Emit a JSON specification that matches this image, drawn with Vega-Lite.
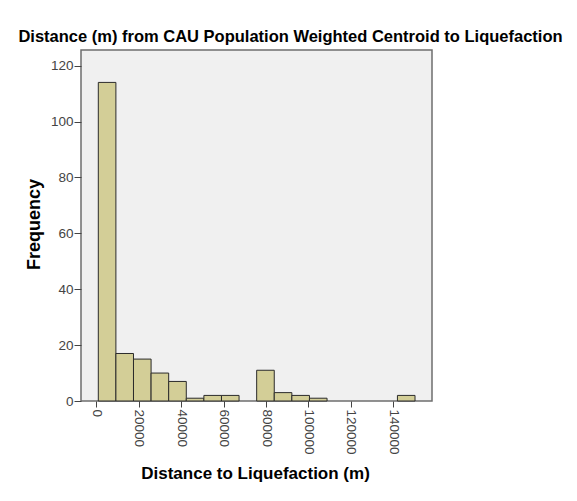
{
  "$schema": "https://vega.github.io/schema/vega-lite/v6.json",
  "width": 351,
  "height": 351,
  "autosize": "none",
  "padding": {"left": 81, "top": 50, "right": 145, "bottom": 100},
  "background": "white",
  "title": {
    "text": "Distance (m) from CAU Population Weighted Centroid to Liquefaction",
    "font": "Liberation Sans",
    "fontSize": 16.5,
    "fontWeight": "bold",
    "color": "black",
    "anchor": "middle",
    "frame": "group",
    "dx": 34,
    "offset": -8,
    "baseline": "alphabetic"
  },
  "data": {
    "values": [
      {"bin_start": 850, "bin_end": 9150, "count": 114},
      {"bin_start": 9150, "bin_end": 17450, "count": 17},
      {"bin_start": 17450, "bin_end": 25750, "count": 15},
      {"bin_start": 25750, "bin_end": 34050, "count": 10},
      {"bin_start": 34050, "bin_end": 42350, "count": 7},
      {"bin_start": 42350, "bin_end": 50650, "count": 1},
      {"bin_start": 50650, "bin_end": 58950, "count": 2},
      {"bin_start": 58950, "bin_end": 67250, "count": 2},
      {"bin_start": 75550, "bin_end": 83850, "count": 11},
      {"bin_start": 83850, "bin_end": 92150, "count": 3},
      {"bin_start": 92150, "bin_end": 100450, "count": 2},
      {"bin_start": 100450, "bin_end": 108750, "count": 1},
      {"bin_start": 141950, "bin_end": 150250, "count": 2}
    ]
  },
  "mark": {"type": "bar", "fill": "#D3CE97", "stroke": "#2b2b2b", "strokeWidth": 1},
  "encoding": {
    "x": {
      "field": "bin_start",
      "type": "quantitative",
      "scale": {"domain": [-7311, 158255], "nice": false, "zero": false},
      "axis": {
        "title": "Distance to Liquefaction (m)",
        "values": [0, 20000, 40000, 60000, 80000, 100000, 120000, 140000],
        "format": "d",
        "labelAngle": 90,
        "labelAlign": "left",
        "labelBaseline": "middle",
        "labelPadding": 2,
        "tickSize": 6,
        "titleX": 174,
        "titleY": 77,
        "titleBaseline": "alphabetic",
        "titleAnchor": "middle",
        "titleAlign": "center"
      }
    },
    "x2": {"field": "bin_end"},
    "y": {
      "field": "count",
      "type": "quantitative",
      "scale": {"domain": [0, 125.6], "nice": false},
      "axis": {
        "title": "Frequency",
        "values": [0, 20, 40, 60, 80, 100, 120],
        "tickSize": 7,
        "labelPadding": 1,
        "titleX": -42,
        "titleY": 174,
        "titleAngle": 270,
        "titleFontSize": 18,
        "titleBaseline": "alphabetic",
        "titleAlign": "center",
        "titleAnchor": "middle"
      }
    },
    "y2": {"datum": 0}
  },
  "config": {
    "view": {"fill": "#F0F0F0", "stroke": "#6e6e6e", "strokeWidth": 1.5},
    "axis": {
      "domain": false,
      "grid": false,
      "labelFont": "Liberation Sans",
      "labelFontSize": 13.5,
      "labelColor": "#444444",
      "tickColor": "#444444",
      "titleFont": "Liberation Sans",
      "titleFontSize": 17,
      "titleFontWeight": "bold",
      "titleColor": "black"
    }
  }
}
